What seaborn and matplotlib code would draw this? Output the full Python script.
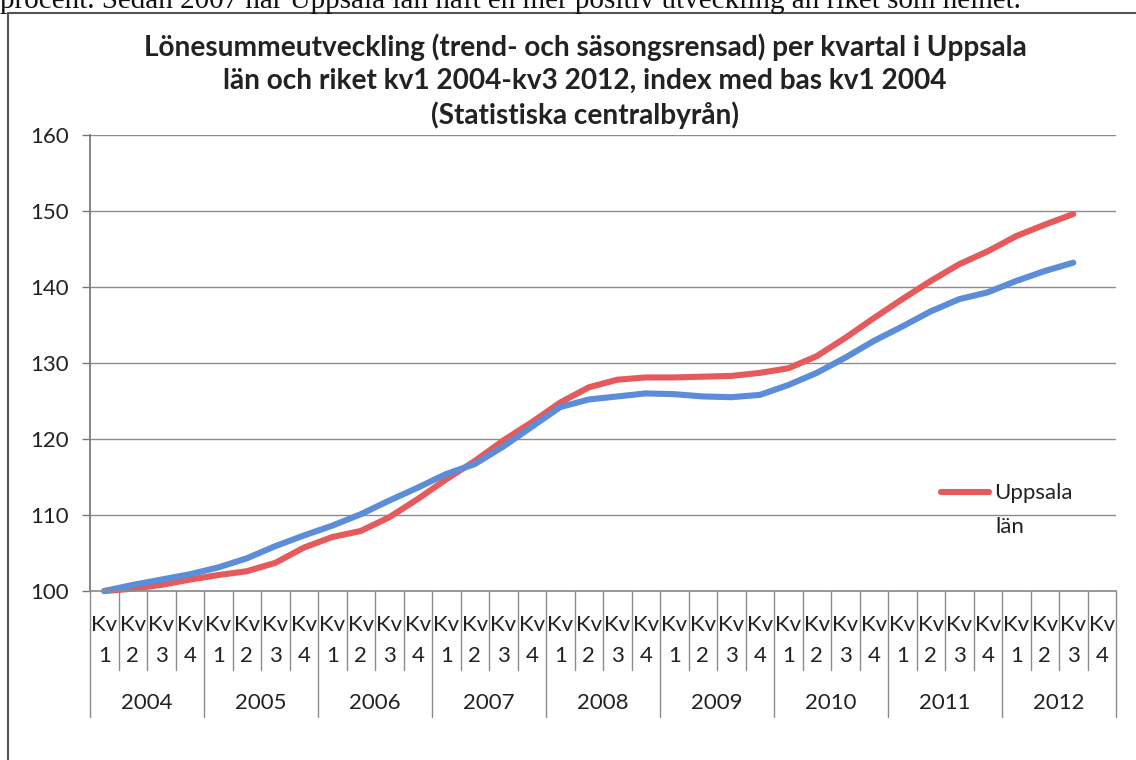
import numpy as np
import pandas as pd

import matplotlib.pyplot as plt
import seaborn as sns

# data (index, kv1 2004 = 100)
years = ['2004', '2005', '2006', '2007', '2008', '2009', '2010', '2011', '2012']
quarters = ['1', '2', '3', '4']
uppsala = [100.0, 100.3, 100.8, 101.5, 102.1, 102.6, 103.7, 105.7, 107.1, 107.9,
           109.7, 112.1, 114.7, 117.1, 119.8, 122.2, 124.8, 126.8, 127.8, 128.1,
           128.1, 128.2, 128.3, 128.7, 129.3, 130.9, 133.3, 135.9, 138.4, 140.8,
           143.0, 144.7, 146.7, 148.2, 149.6]
riket = [100.0, 100.8, 101.5, 102.2, 103.1, 104.3, 105.9, 107.3, 108.6, 110.1,
         111.9, 113.6, 115.4, 116.7, 119.0, 121.6, 124.2, 125.2, 125.6, 126.0,
         125.9, 125.6, 125.5, 125.8, 127.1, 128.7, 130.7, 132.9, 134.8, 136.8,
         138.4, 139.3, 140.8, 142.1, 143.2]
y_ticks = [100, 110, 120, 130, 140, 150, 160]

cat_labels = ['Kv\n' + q for y in years for q in quarters]

df = pd.concat([
    pd.DataFrame({'idx': np.arange(len(uppsala)), 'index': uppsala, 'serie': 'Uppsala län'}),
    pd.DataFrame({'idx': np.arange(len(riket)), 'index': riket, 'serie': 'Riket'}),
])

sns.set_theme(style="white")
plt.rcParams['font.family'] = ['Lato', 'DejaVu Sans']
plt.rcParams['text.color'] = '#222222'

fig = plt.figure(figsize=(11.36, 7.6), dpi=100)
ax = fig.add_axes([90/1136, 1 - 591/760, 1026/1136, 456/760])

pal = {'Uppsala län': '#e65a5c', 'Riket': '#5b8dd8'}
sns.lineplot(data=df, x='idx', y='index', hue='serie', palette=pal,
             linewidth=4.4, legend=False, ax=ax)
for l in ax.lines:
    l.set_clip_on(False)
    l.set_solid_capstyle('round')

ax.set_xlim(-0.5, len(cat_labels) - 0.5)
ax.set_ylim(100, 160)
ax.set_yticks(y_ticks)
ax.set_xticks(np.arange(len(cat_labels)))
ax.set_xticklabels(cat_labels, fontsize=16, linespacing=1.7, color='#222222')
ax.tick_params(axis='x', length=0, pad=17)
ax.tick_params(axis='y', length=6, width=1, color='#777777', pad=9,
               labelsize=16, labelcolor='#222222', left=True)
ax.set_xlabel('')
ax.set_ylabel('')
ax.yaxis.grid(True, color='#8c8c8c', linewidth=1)
ax.xaxis.grid(False)
for s in ['top', 'right']:
    ax.spines[s].set_visible(False)
ax.spines['left'].set_color('#777777')
ax.spines['bottom'].set_color('#8c8c8c')

# two level category axis: dividers and year labels
trans = ax.get_xaxis_transform()
for k in range(len(cat_labels) + 1):
    yb = -0.276 if k % 4 == 0 else -0.173
    ax.plot([k - 0.5, k - 0.5], [0, yb], transform=trans, color='#8c8c8c',
            lw=1, clip_on=False)
for i, y in enumerate(years):
    ax.text(i * 4 + 1.5, -0.246, y, transform=trans, ha='center', va='center',
            fontsize=16)

h = ax.lines[0]
leg = ax.legend([h], ['Uppsala'], loc='upper left', bbox_to_anchor=(0.829, 0.236),
                frameon=False, fontsize=16, handlelength=2.2, handletextpad=0.2,
                borderpad=0, borderaxespad=0)
ax.text(0.882, 0.14, 'län', transform=ax.transAxes, ha='left', va='center', fontsize=16)

fig.text(585/1136, 1 - 33/760,
         'Lönesummeutveckling (trend- och säsongsrensad) per kvartal i Uppsala\n'
         'län och riket kv1 2004-kv3 2012, index med bas kv1 2004\n'
         '(Statistiska centralbyrån)',
         ha='center', va='top', fontsize=20.2, fontweight='bold', linespacing=1.33)

# page text above the chart, cut off by the scan
fig.text(0.0, 1 - 8/760,
         'procent. Sedan 2007 har Uppsala län haft en mer positiv utveckling än riket som helhet.',
         family=['Liberation Serif', 'DejaVu Serif'], fontsize=21, va='baseline', ha='left',
         color='#111111')

fig.add_artist(plt.Rectangle((8/1136, -0.1), 1.2, 1 - 13/760 + 0.1,
                             transform=fig.transFigure, fill=False,
                             edgecolor='#555555', lw=1.5, clip_on=False))

fig.savefig('out.png', dpi=100)
